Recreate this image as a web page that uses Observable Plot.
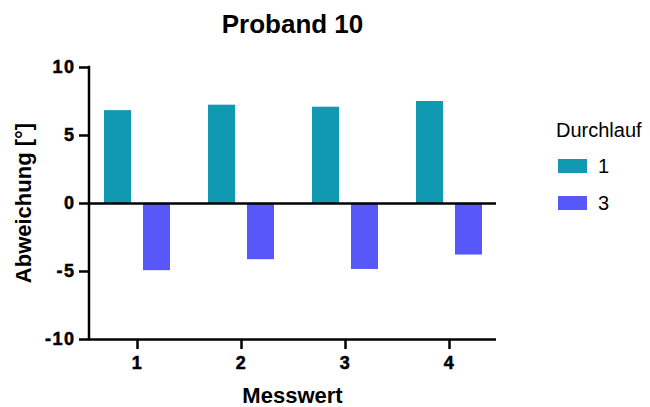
<!DOCTYPE html>
<html><head><meta charset="utf-8">
<script src="https://cdn.jsdelivr.net/npm/d3@7"></script>
<script src="https://cdn.jsdelivr.net/npm/@observablehq/plot@0.6"></script>
<style>
body{margin:0;background:#fff}
#chart svg{font-family:"Liberation Sans",Arial,sans-serif}
#chart g[aria-label^="y-axis"] path, #chart g[aria-label^="x-axis"] path{stroke:#000;stroke-width:2.5px;stroke-opacity:1}
#chart g[aria-label^="y-axis"] text, #chart g[aria-label^="x-axis"] text{letter-spacing:1.5px;fill:#000;font-size:18px;font-weight:bold;stroke:#000;stroke-width:0.5px}
</style></head><body><div id="chart"></div>
<script>
const titel = "Proband 10";
const xTitel = "Messwert";
const yTitel = "Abweichung [°]";
const legendeTitel = "Durchlauf";
const messwerte = ["1", "2", "3", "4"];
const durchlaeufe = ["1", "3"];
const werteDurchlauf1 = [6.83, 7.23, 7.08, 7.50];
const werteDurchlauf3 = [-4.94, -4.13, -4.85, -3.79];
const yTicks = [-10, -5, 0, 5, 10];
const farben = ["#1199b2", "#5757fa"];

const W = 650, H = 407, mL = 89, mR = 154, mT = 67, mB = 68;
const rows1 = messwerte.map((m, i) => ({m, d: durchlaeufe[0], v: werteDurchlauf1[i]}));
const rows3 = messwerte.map((m, i) => ({m, d: durchlaeufe[1], v: werteDurchlauf3[i]}));
const barInset = 39;
const fmt = d => String(d);

const chart = Plot.plot({
  width: W, height: H, marginLeft: mL, marginRight: mR, marginTop: mT, marginBottom: mB,
  style: {fontSize: "18px", fontWeight: "bold", fontFamily: "Liberation Sans, Arial, sans-serif", background: "#fff", color: "#000", overflow: "visible"},
  x: {domain: messwerte, paddingInner: 0.37, paddingOuter: 0.127},
  y: {domain: [-10, 10]},
  color: {domain: durchlaeufe, range: farben},
  marks: [
    Plot.barY(rows1, {x: "m", y: "v", fill: "d", insetRight: barInset}),
    Plot.barY(rows3, {x: "m", y: "v", fill: "d", insetLeft: barInset}),
    Plot.ruleY([0], {stroke: "#000", strokeWidth: 2.5}),
    Plot.ruleY([-10], {stroke: "#000", strokeWidth: 2.5}),
    Plot.axisY({ticks: yTicks, tickFormat: fmt, tickSize: 10, tickPadding: 4, label: null,
      fontSize: 18, fontWeight: "bold", stroke: "#000", strokeWidth: 2.5, strokeOpacity: 1}),
    Plot.axisX({tickSize: 10, tickPadding: 7, label: null,
      fontSize: 18, fontWeight: "bold", stroke: "#000", strokeWidth: 2.5, strokeOpacity: 1})
  ]
});
document.getElementById("chart").appendChild(chart);

const svg = d3.select(chart);
const ys = chart.scale("y");
const col = chart.scale("color");
svg.append("line")
  .attr("x1", mL).attr("x2", mL)
  .attr("y1", ys.apply(yTicks[yTicks.length - 1]) - 1.2).attr("y2", ys.apply(yTicks[0]) + 1.2)
  .attr("stroke", "#000").attr("stroke-width", 2.5);

const font = "Liberation Sans, Arial, sans-serif";
svg.append("text").text(titel)
  .attr("x", mL + (W - mL - mR) / 2).attr("y", 33)
  .attr("text-anchor", "middle").style("font", `bold 26px ${font}`).attr("fill", "#000");
svg.append("text").text(xTitel)
  .attr("x", mL + (W - mL - mR) / 2).attr("y", 403)
  .attr("text-anchor", "middle").style("font", `bold 22px ${font}`).attr("fill", "#000");
svg.append("text").text(yTitel)
  .attr("transform", `translate(31,${ys.apply(0)}) rotate(-90)`)
  .attr("text-anchor", "middle").style("font", `bold 22px ${font}`).attr("fill", "#000");

const lg = svg.append("g").attr("text-anchor", "start");
lg.append("text").text(legendeTitel)
  .attr("x", 556).attr("y", 137).attr("text-anchor", "start")
  .style("font", `normal 20px ${font}`).attr("fill", "#000");
col.domain.forEach((d, i) => {
  const y0 = 159 + i * 37;
  lg.append("rect").attr("x", 558).attr("y", y0).attr("width", 29).attr("height", 14).attr("fill", col.apply(d));
  lg.append("text").text(d).attr("x", 598).attr("y", y0 + 14).attr("text-anchor", "start")
    .style("font", `normal 20px ${font}`).attr("fill", "#000");
});
</script></body></html>
